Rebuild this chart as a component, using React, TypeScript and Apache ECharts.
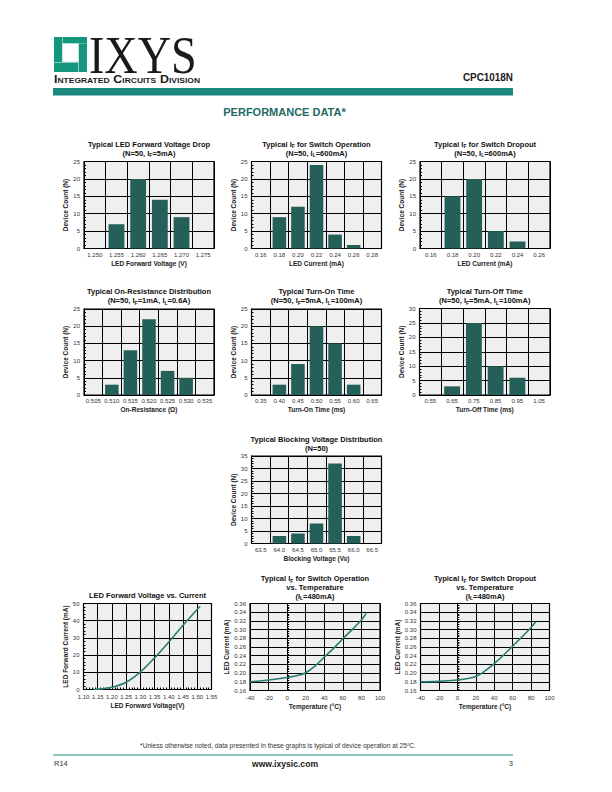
import React, { useEffect, useRef } from 'react';
import * as echarts from 'echarts';

const FONT = 'Liberation Sans';
const BAR = '#245f58';
const LINE = '#2a7d71';
const TEAL = '#1b8a7c';
const LOGO = '#14977d';
const PLOT_BG = '#efefef';

// ---- Histogram data ----
const vfCats = ['1.250', '1.255', '1.260', '1.265', '1.270', '1.275'];
const vfCounts = [0, 7, 20, 14, 9, 0];

const ifOpCats = ['0.16', '0.18', '0.20', '0.22', '0.24', '0.26', '0.28'];
const ifOpCounts = [0, 9, 12, 24, 4, 1, 0];

const ifDropCats = ['0.16', '0.18', '0.20', '0.22', '0.24', '0.26'];
const ifDropCounts = [0, 15, 20, 5, 2, 0];

const ronCats = ['0.505', '0.510', '0.515', '0.520', '0.525', '0.530', '0.535'];
const ronCounts = [0, 3, 13, 22, 7, 5, 0];

const tonCats = ['0.35', '0.40', '0.45', '0.50', '0.55', '0.60', '0.65'];
const tonCounts = [0, 3, 9, 20, 15, 3, 0];

const toffCats = ['0.55', '0.65', '0.75', '0.85', '0.95', '1.05'];
const toffCounts = [0, 3, 25, 10, 6, 0];

const bvCats = ['63.5', '64.0', '64.5', '65.0', '65.5', '66.0', '66.5'];
const bvCounts = [0, 3, 4, 8, 32, 3, 0];

// ---- Curve data ----
const ledVoltage = [1.135, 1.15, 1.2, 1.25, 1.3, 1.35, 1.4, 1.45, 1.51];
const ledCurrent = [0, 0.2, 1.3, 4.2, 10.2, 18.4, 27.6, 37.4, 48.4];

const temps = [-40, -20, 0, 10, 20, 30, 40, 50, 60, 70, 80, 85];
const ifOpVsTemp = [0.18, 0.184, 0.19, 0.194, 0.201, 0.216, 0.237, 0.257, 0.279, 0.3, 0.322, 0.337];
const ifDropVsTemp = [0.18, 0.181, 0.184, 0.187, 0.192, 0.205, 0.222, 0.241, 0.262, 0.283, 0.305, 0.318];

const rich = {
  s: { fontSize: 5, fontWeight: 'bold', fontFamily: FONT, color: '#111', verticalAlign: 'bottom', lineHeight: 5 },
};

type Box = { left: number; top: number; width: number; height: number };

const barCharts: {
  cats: string[];
  vals: number[];
  ymax: number;
  title: string;
  titleTop: number;
  xname: string;
  grid: Box;
}[] = [
  { cats: vfCats, vals: vfCounts, ymax: 25, title: 'Typical LED Forward Voltage Drop\n(N=50, I{s|F}=5mA)', titleTop: 139.5, xname: 'LED Forward Voltage (V)', grid: { left: 84, top: 161.5, width: 130, height: 87 } },
  { cats: ifOpCats, vals: ifOpCounts, ymax: 25, title: 'Typical I{s|F} for Switch Operation\n(N=50, I{s|L}=600mA)', titleTop: 139.5, xname: 'LED Current (mA)', grid: { left: 251.5, top: 161.5, width: 130, height: 87 } },
  { cats: ifDropCats, vals: ifDropCounts, ymax: 25, title: 'Typical I{s|F} for Switch Dropout\n(N=50, I{s|L}=600mA)', titleTop: 139.5, xname: 'LED Current (mA)', grid: { left: 420, top: 161.5, width: 130, height: 87 } },
  { cats: ronCats, vals: ronCounts, ymax: 25, title: 'Typical On-Resistance Distribution\n(N=50, I{s|F}=1mA, I{s|L}=0.6A)', titleTop: 287, xname: 'On-Resistance (Ω)', grid: { left: 84, top: 309, width: 130, height: 86 } },
  { cats: tonCats, vals: tonCounts, ymax: 25, title: 'Typical Turn-On Time\n(N=50, I{s|F}=5mA, I{s|L}=100mA)', titleTop: 287, xname: 'Turn-On Time (ms)', grid: { left: 251.5, top: 309, width: 130, height: 86 } },
  { cats: toffCats, vals: toffCounts, ymax: 30, title: 'Typical Turn-Off Time\n(N=50, I{s|F}=5mA, I{s|L}=100mA)', titleTop: 287, xname: 'Turn-Off Time (ms)', grid: { left: 419.5, top: 308.5, width: 130.5, height: 86.5 } },
  { cats: bvCats, vals: bvCounts, ymax: 35, title: 'Typical Blocking Voltage Distribution\n(N=50)', titleTop: 434.5, xname: 'Blocking Voltage (V{s|B})', grid: { left: 251.5, top: 456, width: 130, height: 87.5 } },
];

const lineGrids: Box[] = [
  { left: 83.5, top: 603.5, width: 128, height: 86 },
  { left: 250, top: 603.5, width: 130, height: 87 },
  { left: 420.5, top: 603.5, width: 129, height: 87 },
];

const black = { color: '#000', width: 1 };
const labelStyle = { fontSize: 6, color: '#333', fontFamily: FONT };
const nameStyle = { fontSize: 6.5, fontWeight: 'bold', color: '#222', fontFamily: FONT, rich: { s: { fontSize: 4.5, fontWeight: 'bold', fontFamily: FONT, color: '#222', verticalAlign: 'bottom', lineHeight: 4 } } };

function titleFor(text: string, cx: number, top: number, lh = 9) {
  return {
    text,
    left: cx,
    top,
    textAlign: 'center',
    padding: 0,
    itemGap: 0,
    textStyle: { fontSize: 7.5, fontWeight: 'bold', color: '#111', fontFamily: FONT, lineHeight: lh, rich: { s: { ...rich.s, lineHeight: 5 } } },
  };
}

export default function App() {
  const ref = useRef<HTMLDivElement>(null);
  useEffect(() => {
    const chart = echarts.init(ref.current!, null, { renderer: 'svg', width: 612, height: 792 });
    const grid: any[] = [];
    const xAxis: any[] = [];
    const yAxis: any[] = [];
    const series: any[] = [];
    const title: any[] = [];

    barCharts.forEach((c, i) => {
      grid.push({ ...c.grid, show: true, backgroundColor: PLOT_BG, borderColor: '#000', borderWidth: 1.2, containLabel: false });
      xAxis.push({
        type: 'category',
        gridIndex: i,
        data: c.cats,
        boundaryGap: true,
        axisLine: { show: true, lineStyle: black },
        axisTick: { show: false, interval: 0 },
        splitLine: { show: true, interval: 0, lineStyle: black },
        axisLabel: { ...labelStyle, interval: 0, margin: 3 },
        name: c.xname,
        nameLocation: 'middle',
        nameGap: 11,
        nameTextStyle: nameStyle,
      });
      yAxis.push({
        type: 'value',
        gridIndex: i,
        min: 0,
        max: c.ymax,
        interval: 5,
        axisLine: { show: true, lineStyle: black },
        axisTick: { show: true, inside: true, length: 3, lineStyle: black },
        minorTick: { show: true, splitNumber: 5, length: 2, lineStyle: black },
        splitLine: { show: true, lineStyle: black },
        axisLabel: { ...labelStyle, margin: 4 },
        name: 'Device Count (N)',
        nameLocation: 'middle',
        nameGap: 15,
        nameTextStyle: nameStyle,
      });
      series.push({
        type: 'bar',
        xAxisIndex: i,
        yAxisIndex: i,
        data: c.vals,
        barCategoryGap: '27%',
        itemStyle: { color: BAR },
        silent: true,
      });
      title.push(titleFor(c.title, c.grid.left + c.grid.width / 2, c.titleTop));
    });

    const lineDefs = [
      {
        g: lineGrids[0],
        x: { min: 1.1, max: 1.55, interval: 0.05, fmt: (v: number) => v.toFixed(2) },
        y: { min: 0, max: 50, interval: 10, fmt: (v: number) => String(v) },
        data: ledVoltage.map((v, k) => [v, ledCurrent[k]]),
        xname: 'LED Forward Voltage(V)',
        yname: 'LED Forward Current (mA)',
        ygap: 12,
        title: 'LED Forward Voltage vs. Current',
        titleTop: 590.5,
        xminor: true,
      },
      {
        g: lineGrids[1],
        x: { min: -40, max: 100, interval: 20, fmt: (v: number) => String(v) },
        y: { min: 0.16, max: 0.36, interval: 0.02, fmt: (v: number) => v.toFixed(2) },
        data: temps.map((t, k) => [t, ifOpVsTemp[k]]),
        xname: 'Temperature (°C)',
        yname: 'LED Current (mA)',
        ygap: 16,
        title: 'Typical I{s|F} for Switch Operation\nvs. Temperature\n(I{s|L}=480mA)',
        titleTop: 574.5,
        xminor: false,
      },
      {
        g: lineGrids[2],
        x: { min: -40, max: 100, interval: 20, fmt: (v: number) => String(v) },
        y: { min: 0.16, max: 0.36, interval: 0.02, fmt: (v: number) => v.toFixed(2) },
        data: temps.map((t, k) => [t, ifDropVsTemp[k]]),
        xname: 'Temperature (°C)',
        yname: 'LED Current (mA)',
        ygap: 16,
        title: 'Typical I{s|F} for Switch Dropout\nvs. Temperature\n(I{s|L}=480mA)',
        titleTop: 574.5,
        xminor: false,
      },
    ];

    lineDefs.forEach((d, j) => {
      const i = barCharts.length + j;
      grid.push({ ...d.g, show: true, backgroundColor: PLOT_BG, borderColor: '#000', borderWidth: 1.2, containLabel: false });
      xAxis.push({
        type: 'value',
        gridIndex: i,
        min: d.x.min,
        max: d.x.max,
        interval: d.x.interval,
        axisLine: { show: true, lineStyle: black },
        axisTick: { show: true, inside: true, length: 3, lineStyle: black },
        minorTick: { show: d.xminor, splitNumber: 5, length: 2, lineStyle: black },
        splitLine: { show: true, lineStyle: black },
        axisLabel: { ...labelStyle, margin: 4, formatter: d.x.fmt },
        name: d.xname,
        nameLocation: 'middle',
        nameGap: 12.5,
        nameTextStyle: nameStyle,
      });
      yAxis.push({
        type: 'value',
        gridIndex: i,
        min: d.y.min,
        max: d.y.max,
        interval: d.y.interval,
        axisLine: { show: true, lineStyle: black },
        axisTick: { show: true, inside: true, length: 3, lineStyle: black },
        minorTick: { show: true, splitNumber: 5, length: 2, lineStyle: black },
        splitLine: { show: true, lineStyle: black },
        axisLabel: { ...labelStyle, margin: 4, formatter: d.y.fmt },
        name: d.yname,
        nameLocation: 'middle',
        nameGap: d.ygap,
        nameTextStyle: nameStyle,
      });
      series.push({
        type: 'line',
        xAxisIndex: i,
        yAxisIndex: i,
        data: d.data,
        smooth: 0.4,
        showSymbol: false,
        lineStyle: { color: LINE, width: 1.6 },
        silent: true,
      });
      title.push(titleFor(d.title, d.g.left + d.g.width / 2, d.titleTop, d.title.includes('\n') ? 8.7 : 9));
    });

    const graphic: any[] = [
      // logo
      { type: 'rect', shape: { x: 54, y: 37, width: 8, height: 25 }, style: { fill: LOGO } },
      { type: 'rect', shape: { x: 62.5, y: 37, width: 24.5, height: 6.5 }, style: { fill: LOGO } },
      { type: 'rect', shape: { x: 79, y: 43.5, width: 8, height: 28.5 }, style: { fill: LOGO } },
      { type: 'rect', shape: { x: 54, y: 62.5, width: 24.5, height: 9.5 }, style: { fill: LOGO } },
      { type: 'rect', shape: { x: 62.5, y: 43.5, width: 16, height: 18.5 }, style: { fill: '#fff', stroke: '#9fd3c8', lineWidth: 0.6 } },
      {
        type: 'text', x: 89, y: 55, scaleX: 0.87,
        style: { text: 'IXYS', fontSize: 53, fontFamily: 'Liberation Serif', fill: '#1a1a1a', textAlign: 'left', textVerticalAlign: 'middle' },
      },
      {
        type: 'text', x: 54, y: 84.5, scaleX: 1.13,
        style: {
          text: '{b|I}{s|NTEGRATED} {b|C}{s|IRCUITS} {b|D}{s|IVISION}',
          textAlign: 'left', textVerticalAlign: 'bottom', fill: '#1a1a1a',
          rich: {
            b: { fontSize: 11, fontWeight: 'bold', fontFamily: FONT, fill: '#1a1a1a', verticalAlign: 'bottom' },
            s: { fontSize: 7.5, fontWeight: 'bold', fontFamily: FONT, fill: '#1a1a1a', verticalAlign: 'bottom' },
          },
        },
      },
      {
        type: 'text', x: 513, y: 77.5, scaleX: 0.9,
        style: { text: 'CPC1018N', fontSize: 11, fontWeight: 'bold', fontFamily: FONT, fill: '#1a1a1a', textAlign: 'right', textVerticalAlign: 'middle' },
      },
      { type: 'rect', shape: { x: 53, y: 88, width: 460, height: 7.5 }, style: { fill: TEAL } },
      {
        type: 'text', x: 284.5, y: 112,
        style: { text: 'PERFORMANCE DATA*', fontSize: 11, fontWeight: 'bold', fontFamily: FONT, fill: '#1f6b5f', textAlign: 'center', textVerticalAlign: 'middle' },
      },
      // footer
      {
        type: 'text', x: 278, y: 745,
        style: { text: '*Unless otherwise noted, data presented in these graphs is typical of device operation at 25ºC.', fontSize: 6.6, fontFamily: FONT, fill: '#333', textAlign: 'center', textVerticalAlign: 'middle' },
      },
      { type: 'line', shape: { x1: 53, y1: 755, x2: 513, y2: 755 }, style: { stroke: TEAL, lineWidth: 1 } },
      {
        type: 'text', x: 54, y: 763.5,
        style: { text: 'R14', fontSize: 7.5, fontFamily: FONT, fill: '#333', textAlign: 'left', textVerticalAlign: 'middle' },
      },
      {
        type: 'text', x: 285, y: 763.5,
        style: { text: 'www.ixysic.com', fontSize: 8.6, fontWeight: 'bold', fontFamily: FONT, fill: '#1a1a1a', textAlign: 'center', textVerticalAlign: 'middle' },
      },
      {
        type: 'text', x: 513, y: 763.5,
        style: { text: '3', fontSize: 7.5, fontFamily: FONT, fill: '#333', textAlign: 'right', textVerticalAlign: 'middle' },
      },
    ];

    chart.setOption({
      animation: false,
      backgroundColor: '#fff',
      title,
      grid,
      xAxis,
      yAxis,
      series,
      graphic,
    });
    return () => chart.dispose();
  }, []);
  return <div ref={ref} style={{ position: 'absolute', left: 0, top: 0, width: 612, height: 792, background: '#fff' }} />;
}
